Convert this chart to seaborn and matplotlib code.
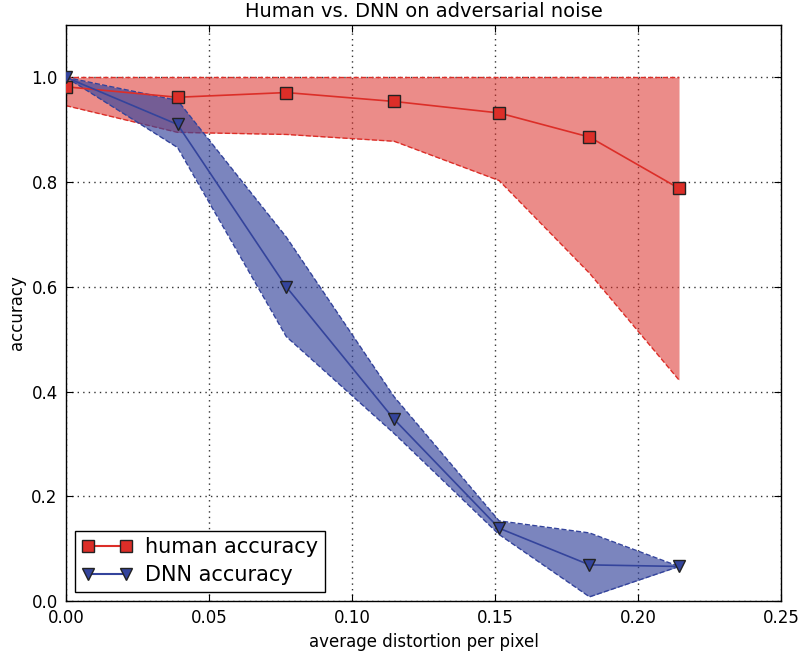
import numpy as np
import pandas as pd
import seaborn as sns
import matplotlib
matplotlib.use("Agg")
import matplotlib.pyplot as plt
from matplotlib.lines import Line2D

# values
distortion = [0.0, 0.039, 0.077, 0.1147, 0.1514, 0.183, 0.2143]

human_acc = [0.982, 0.962, 0.971, 0.954, 0.932, 0.886, 0.788]
human_upper = [1.0, 1.0, 1.0, 1.0, 1.0, 1.0, 1.0]
human_lower = [0.946, 0.895, 0.891, 0.878, 0.803, 0.626, 0.422]

dnn_acc = [1.0, 0.91, 0.60, 0.347, 0.139, 0.069, 0.066]
dnn_upper = [1.0, 0.956, 0.695, 0.39, 0.153, 0.13, 0.066]
dnn_lower = [1.0, 0.866, 0.505, 0.32, 0.127, 0.008, 0.066]

sns.set_style("white", {
    "axes.edgecolor": "black",
    "axes.labelcolor": "black",
    "text.color": "black",
    "xtick.color": "black",
    "ytick.color": "black",
    "xtick.direction": "in",
    "ytick.direction": "in",
    "xtick.bottom": True,
    "ytick.left": True,
    "xtick.top": True,
    "ytick.right": True,
})
plt.rcParams["font.family"] = ["DejaVu Sans"]

red = "#dc2e28"
blue = "#34449c"

df = pd.DataFrame({
    "distortion": distortion * 2,
    "accuracy": human_acc + dnn_acc,
    "model": ["human accuracy"] * len(distortion) + ["DNN accuracy"] * len(distortion),
})

fig = plt.figure(figsize=(8.02, 6.51), dpi=100)
ax = fig.add_axes([0.0823, 0.0768, 0.8917, 0.8848])

# shaded ranges with dashed borders
ax.fill_between(distortion, human_lower, human_upper, color=red, alpha=0.55,
                linewidth=0, zorder=1)
ax.plot(distortion, human_lower, color=red, ls="--", lw=1, zorder=2)
ax.plot(distortion, human_upper, color=red, ls="--", lw=1, zorder=2)

ax.fill_between(distortion, dnn_lower, dnn_upper, color=blue, alpha=0.65,
                linewidth=0, zorder=3)
ax.plot(distortion, dnn_lower, color=blue, ls="--", lw=1, zorder=4)
ax.plot(distortion, dnn_upper, color=blue, ls="--", lw=1, zorder=4)

sns.lineplot(data=df, x="distortion", y="accuracy", hue="model", style="model",
             palette={"human accuracy": red, "DNN accuracy": blue},
             markers={"human accuracy": "s", "DNN accuracy": "v"},
             dashes=False, markersize=8, markeredgecolor="#222222",
             markeredgewidth=1, linewidth=1.2, ax=ax, zorder=5, legend=False)

handles = [
    Line2D([0], [0], color=red, marker="s", markersize=8, markeredgecolor="#222222"),
    Line2D([0], [0], color=blue, marker="v", markersize=8, markeredgecolor="#222222"),
]
leg = ax.legend(handles, ["human accuracy", "DNN accuracy"], loc="lower left",
                numpoints=2, fontsize=15, frameon=True, fancybox=False,
                borderaxespad=0.45, borderpad=0.3, handlelength=2.45,
                handletextpad=0.6, labelspacing=0.4)
leg.get_frame().set_edgecolor("black")
leg.get_frame().set_linewidth(1)
leg.get_frame().set_alpha(1)

ax.set_xlim(0, 0.25)
ax.set_ylim(0, 1.1)
ax.set_xticks([0.0, 0.05, 0.10, 0.15, 0.20, 0.25])
ax.set_xticklabels(["0.00", "0.05", "0.10", "0.15", "0.20", "0.25"])
ax.set_yticks([0.0, 0.2, 0.4, 0.6, 0.8, 1.0])
ax.grid(True, color="#333333", linestyle=(0, (1, 3)), linewidth=1)
ax.tick_params(labelsize=12, length=5, pad=6)
for s in ax.spines.values():
    s.set_linewidth(1)
ax.set_xlabel("average distortion per pixel", fontsize=12)
ax.set_ylabel("accuracy", fontsize=12)
ax.set_title("Human vs. DNN on adversarial noise", fontsize=14)

fig.savefig("out.png", dpi=100)
